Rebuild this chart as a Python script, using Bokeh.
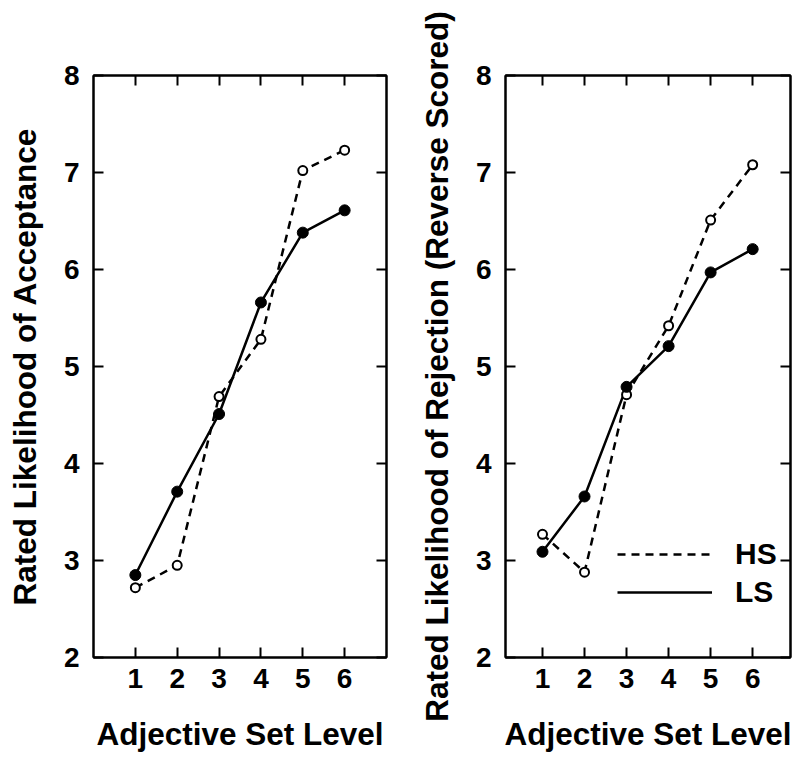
from bokeh.plotting import figure
from bokeh.models import LinearAxis, FixedTicker, Range1d, Legend, LegendItem
from bokeh.layouts import row
from bokeh.embed import file_html
from bokeh.resources import INLINE

# ---- data ----
levels = [1, 2, 3, 4, 5, 6]
x_tick_labels = ["1", "2", "3", "4", "5", "6"]
y_ticks = [2, 3, 4, 5, 6, 7, 8]

accept_hs = [2.72, 2.95, 4.69, 5.28, 7.02, 7.23]
accept_ls = [2.85, 3.71, 4.51, 5.66, 6.38, 6.61]

reject_hs = [3.27, 2.88, 4.71, 5.42, 6.51, 7.08]
reject_ls = [3.09, 3.66, 4.79, 5.21, 5.97, 6.21]

series_names = ["HS", "LS"]
x_title = "Adjective Set Level"
y_title_left = "Rated Likelihood of Acceptance"
y_title_right = "Rated Likelihood of Rejection (Reverse Scored)"

FONT = "Liberation Sans"


def style_axis(ax, show_labels=True):
    ax.axis_line_width = 2
    ax.axis_line_color = "black"
    ax.major_tick_in = 10
    ax.major_tick_out = 0
    ax.major_tick_line_width = 2
    ax.major_tick_line_color = "black"
    ax.minor_tick_line_color = None
    ax.major_label_text_font = FONT
    ax.major_label_text_font_style = "bold"
    ax.major_label_text_color = "black"
    ax.axis_label_text_font = FONT
    ax.axis_label_text_font_style = "bold"
    ax.axis_label_text_font_size = "31.5px"
    ax.axis_label_text_color = "black"
    if not show_labels:
        ax.major_label_text_color = None
        ax.major_label_text_font_size = "8px"
        ax.major_label_standoff = 0


def make_panel(hs, ls, ytitle, width, xr, border_left, border_right,
               border_top, border_bottom, with_legend=False):
    p = figure(width=width, height=758, x_range=Range1d(*xr),
               y_range=Range1d(2, 8), output_backend="svg",
               toolbar_location=None, min_border_left=border_left,
               min_border_right=border_right, min_border_top=border_top,
               min_border_bottom=border_bottom)
    p.xgrid.visible = False
    p.ygrid.visible = False
    p.outline_line_color = "black"
    p.outline_line_width = 2
    p.background_fill_color = "white"
    p.border_fill_color = "white"

    p.xaxis.ticker = FixedTicker(ticks=levels)
    p.xaxis.major_label_overrides = dict(zip(levels, x_tick_labels))
    p.yaxis.ticker = FixedTicker(ticks=y_ticks)
    for ax in p.xaxis:
        style_axis(ax)
        ax.major_label_text_font_size = "28px"
        ax.major_label_standoff = 11
        ax.axis_label = x_title
        ax.axis_label_standoff = 25
    for ax in p.yaxis:
        style_axis(ax)
        ax.major_label_text_font_size = "28px"
        ax.major_label_standoff = 14
        ax.axis_label = ytitle
        ax.axis_label_standoff = 18

    top = LinearAxis(ticker=FixedTicker(ticks=levels))
    style_axis(top, show_labels=False)
    p.add_layout(top, "above")
    right = LinearAxis(ticker=FixedTicker(ticks=y_ticks))
    style_axis(right, show_labels=False)
    p.add_layout(right, "right")

    l_hs = p.line(levels, hs, line_color="black", line_width=2.5,
                  line_dash="8 6")
    l_ls = p.line(levels, ls, line_color="black", line_width=2.5)
    p.scatter(levels, hs, marker="circle", size=9, fill_color="white",
              line_color="black", line_width=2)
    p.scatter(levels, ls, marker="circle", size=11, fill_color="black",
              line_color="black")

    if with_legend:
        leg = Legend(items=[LegendItem(label=series_names[0], renderers=[l_hs]),
                            LegendItem(label=series_names[1], renderers=[l_ls])],
                     location=(112, 48))
        leg.glyph_width = 95
        leg.glyph_height = 20
        leg.label_standoff = 23
        leg.label_text_font = FONT
        leg.label_text_font_style = "bold"
        leg.label_text_font_size = "30px"
        leg.label_text_color = "black"
        leg.spacing = 4
        leg.padding = 0
        leg.margin = 0
        leg.border_line_color = None
        leg.background_fill_alpha = 0
        p.add_layout(leg, "center")
    return p


p1 = make_panel(accept_hs, accept_ls, y_title_left, 400, (0, 7),
                93, 14, 72, 101)
p2 = make_panel(reject_hs, reject_ls, y_title_right, 393, (0.12, 6.9),
                105, 3, 75, 99, with_legend=True)

layout = row(p1, p2)
open("out.html", "w").write(file_html(layout, INLINE))
